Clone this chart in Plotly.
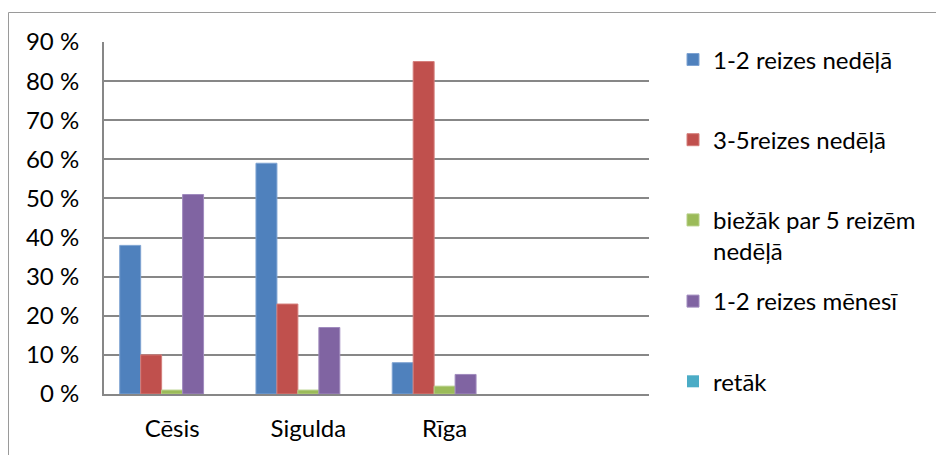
import plotly.graph_objects as go

# ---- data ----
categories = ["Cēsis", "Sigulda", "Rīga"]
series_names = ["1-2 reizes nedēļā", "3-5reizes nedēļā",
                "biežāk par 5 reizēm<br>nedēļā", "1-2 reizes mēnesī", "retāk"]
v_12_week = [38, 59, 8]
v_35_week = [10, 23, 85]
v_more5_week = [1, 1, 2]
v_12_month = [51, 17, 5]
v_rarely = [0, 0, 0]
series_values = [v_12_week, v_35_week, v_more5_week, v_12_month, v_rarely]
y_ticks = [0, 10, 20, 30, 40, 50, 60, 70, 80, 90]
y_tick_labels = ["0 %", "10 %", "20 %", "30 %", "40 %", "50 %", "60 %", "70 %", "80 %", "90 %"]

colors = ["#4F81BD", "#C0504D", "#9BBB59", "#8064A2", "#4BACC6"]
edge = ["#7EA3D2", "#D47E7B", "#B6CF86", "#A08BBE", "#7CC4D8"]
legend_of = ["legend", "legend", "legend", "legend2", "legend2"]

W, H = 936, 455
ML, MR, MT, MB = 104, 936 - 649, 42, 455 - 394
PW, PH = W - ML - MR, H - MT - MB

def px_x(p):
    return (p - ML) / PW

def px_y(p):
    return (H - MB - p) / PH

FONT = "Lato"
FS = 24

fig = go.Figure()
for name, vals, c, e, lg in zip(series_names, series_values, colors, edge, legend_of):
    fig.add_trace(go.Bar(
        x=categories, y=vals, name=name,
        marker=dict(color=c, line=dict(color=e, width=1 if max(vals) > 0 else 0)),
        legend=lg, legendgroup=name,
    ))

grid_col = "#878787"
leg_common = dict(
    xanchor="left", yanchor="top",
    traceorder="grouped", tracegroupgap=46, valign="top",
    font=dict(family=FONT, size=FS), bgcolor="rgba(0,0,0,0)",
    maxheight=440,
)
fig.update_layout(
    width=W, height=H,
    margin=dict(l=ML, r=MR, t=MT, b=MB, pad=0),
    paper_bgcolor="white", plot_bgcolor="white",
    font=dict(family=FONT, size=FS, color="#000000"),
    barmode="group", bargap=1.5 / 6.5, bargroupgap=0,
    xaxis=dict(
        type="category", range=[-0.5, 3.5],
        showline=True, linecolor=grid_col, linewidth=2, layer="above traces",
        showgrid=False, ticks="", ticklabelstandoff=12,
        tickfont=dict(family=FONT, size=FS),
    ),
    yaxis=dict(
        range=[0, 90], tickmode="array", tickvals=y_ticks, ticktext=y_tick_labels,
        showline=True, linecolor=grid_col, linewidth=2, layer="above traces",
        showgrid=True, gridcolor=grid_col, gridwidth=1.5,
        zeroline=False, ticks="", ticklabelstandoff=18,
        tickfont=dict(family=FONT, size=FS),
    ),
    legend=dict(x=px_x(673), y=px_y(37.4), **leg_common),
    legend2=dict(x=px_x(673), y=px_y(279), **leg_common),
    showlegend=True,
    shapes=[
        dict(type="line", xref="paper", yref="paper",
             x0=px_x(8.5), x1=px_x(W + 5), y0=px_y(12.5), y1=px_y(12.5),
             line=dict(color="#9a9a9a", width=1)),
        dict(type="line", xref="paper", yref="paper",
             x0=px_x(8.5), x1=px_x(8.5), y0=px_y(12.5), y1=px_y(H + 5),
             line=dict(color="#9a9a9a", width=1)),
    ],
)

fig.write_html("out.html")
